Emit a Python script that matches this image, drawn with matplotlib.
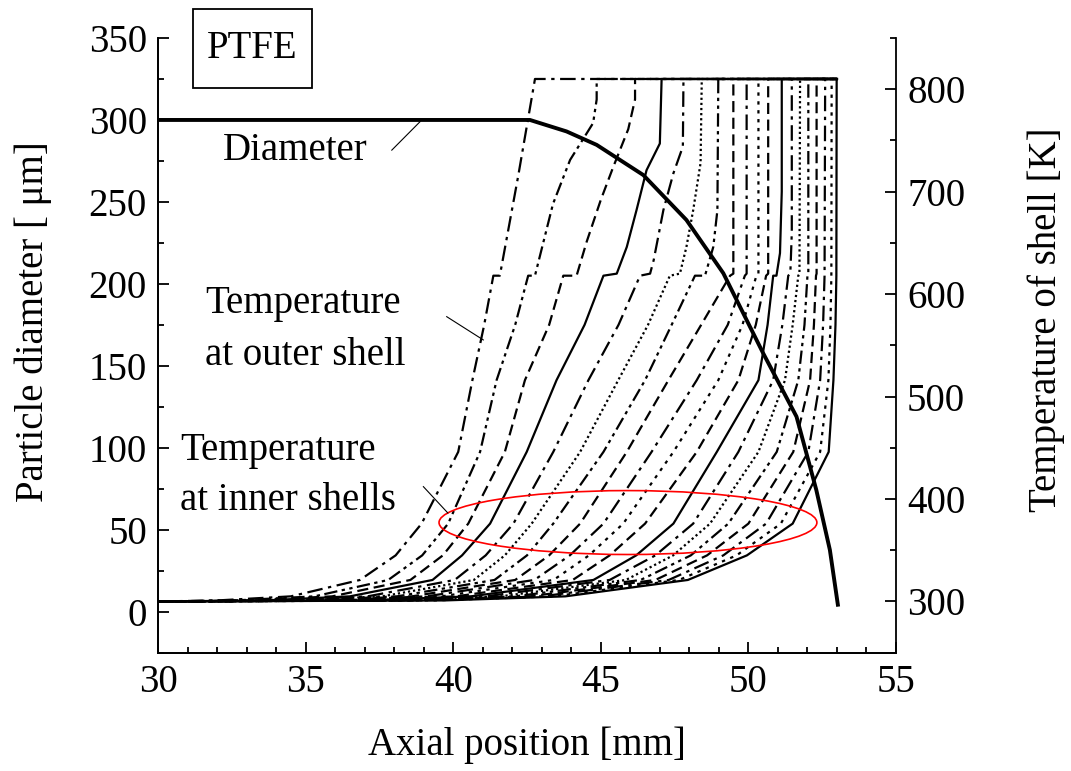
import matplotlib
matplotlib.use("Agg")
from matplotlib import pyplot as plt
from matplotlib.patches import Ellipse, Rectangle
from matplotlib.ticker import MultipleLocator

plt.rcParams['font.family'] = ['Liberation Serif', 'DejaVu Serif']

# diameter of the particle [um] vs axial position [mm]
diam_x = [30.0, 42.6, 43.84, 44.86, 46.44, 47.9, 49.15, 50.5, 51.63, 52.3, 52.76, 53.04]
diam_d = [300, 300, 293, 284.8, 266.4, 239, 206.5, 157.7, 119, 74.3, 37.7, 3.1]

# lower part of the shell temperature curves: x [mm] where each shell reaches these T [K]
t_low = [300, 301, 305, 321, 345, 376, 446, 516]
x_t300 = [30.0] * 19
x_t301 = [32.0, 32.6, 33.1, 33.6, 34.1, 34.5, 34.9, 35.3, 35.7, 36.1, 36.5, 36.9, 37.3, 37.7, 38.1, 38.5, 38.9, 39.3, 39.7]
x_t305 = [34.5, 35.3, 35.9, 36.5, 37.1, 37.6, 38.1, 38.6, 39.1, 39.6, 40.1, 40.6, 41.1, 41.6, 42.1, 42.6, 43.0, 43.4, 43.8]
x_t321 = [36.84, 37.8, 38.55, 39.3, 40.05, 40.7, 41.4, 42.1, 42.75, 43.4, 44.05, 44.75, 45.3, 45.85, 46.35, 46.85, 47.3, 47.65, 47.95]
x_t345 = [38.05, 38.95, 39.65, 40.3, 41.1, 41.75, 42.5, 43.25, 43.95, 44.6, 45.3, 46.2, 46.85, 47.45, 48.05, 48.6, 49.15, 49.6, 49.95]
x_t376 = [38.93, 39.83, 40.51, 41.25, 42.04, 42.66, 43.39, 44.3, 45.09, 45.76, 46.5, 47.46, 48.13, 48.7, 49.32, 50.0, 50.6, 51.1, 51.5]
x_t446 = [40.17, 40.91, 41.75, 42.49, 43.39, 44.3, 45.09, 45.88, 46.72, 47.46, 48.25, 48.93, 49.66, 50.34, 50.96, 51.52, 52.03, 52.43, 52.72]
x_t516 = [40.65, 41.47, 42.43, 43.5, 44.58, 45.59, 46.5, 47.29, 48.25, 48.98, 49.66, 50.34, 50.84, 51.24, 51.69, 52.09, 52.43, 52.71, 52.88]

# upper part (melting step and rise to 810 K), one list per shell
up_x = [
    [41.05, 41.36, 41.58, 42.2, 42.77],
    [42.1, 42.54, 42.77, 43.38, 43.96, 44.35, 44.74, 44.86, 44.86],
    [43.25, 43.73, 44.18, 44.52, 45.0, 45.42, 45.93, 46.16, 46.16],
    [44.45, 45.09, 45.54, 45.88, 46.21, 46.55, 47.0, 47.06],
    [45.6, 46.33, 46.67, 46.79, 47.12, 47.46, 47.78, 47.8],
    [46.6, 47.34, 47.68, 47.9, 48.13, 48.38, 48.42],
    [47.4, 48.19, 48.53, 48.81, 48.95, 48.98],
    [48.4, 49.38, 49.49, 49.49],
    [49.3, 49.88, 49.94, 49.94],
    [49.8, 50.27, 50.34, 50.34],
    [50.25, 50.6, 50.67, 50.67],
    [50.65, 50.84, 50.95, 51.07, 51.13, 51.13],
    [51.15, 51.35, 51.42, 51.47, 51.47],
    [51.5, 51.69, 51.73, 51.75],
    [51.9, 52.0, 52.03, 52.03],
    [52.22, 52.29, 52.31, 52.31],
    [52.53, 52.58, 52.6],
    [52.78, 52.81, 52.82],
    [52.95, 52.98, 52.99],
]
up_t = [
    [570, 618, 618, 715, 810],
    [570, 618, 618, 688, 731, 749, 767, 790, 810],
    [570, 618, 618, 651, 692, 724, 761, 790, 810],
    [570, 618, 620, 646, 682, 721, 747, 810],
    [570, 618, 620, 633, 682, 718, 744, 810],
    [570, 618, 620, 646, 682, 728, 810],
    [570, 618, 618, 646, 682, 810],
    [570, 618, 620, 810],
    [570, 618, 620, 810],
    [570, 618, 620, 810],
    [570, 618, 620, 810],
    [570, 618, 618, 640, 700, 810],
    [570, 618, 620, 660, 810],
    [570, 618, 620, 810],
    [570, 618, 620, 810],
    [570, 618, 620, 810],
    [570, 618, 810],
    [570, 618, 810],
    [570, 618, 810],
]
x_end = 53.0
t_end = 810

dashdot = (0, (7, 2.5, 1.5, 2.5))
dashdotdot = (0, (6, 2, 1.5, 2, 1.5, 2))
dashed = (0, (5, 2.5))
dotted = (0, (1, 1.3))
shortdot = (0, (1.5, 2.5))
styles = [dashdot, dashdotdot, dashed, '-', dashdot, dotted, dashdotdot, dashed,
          dashdot, shortdot, dashed, '-', dashdot, dotted, dashdotdot, dashed,
          dashdot, shortdot, '-']

FS = 28

fig = plt.figure(figsize=(10.71, 7.71), dpi=100)
ax1 = fig.add_axes([158 / 1071, 1 - 652.7 / 771, 738 / 1071, 614.7 / 771])
ax2 = ax1.twinx()

lows = [x_t300, x_t301, x_t305, x_t321, x_t345, x_t376, x_t446, x_t516]
for i in range(19):
    xs = [lv[i] for lv in lows] + up_x[i] + [x_end]
    ts = list(t_low) + up_t[i] + [t_end]
    ax2.plot(xs, ts, color='black', lw=1.6, ls=styles[i])

ax1.set_zorder(ax2.get_zorder() + 1)
ax1.patch.set_visible(False)
ax1.plot(diam_x, diam_d, color='black', lw=2.8, solid_capstyle='butt')

ell = Ellipse((45.92, 54.4), 12.8, 39, fill=False, edgecolor='red', lw=1.2)
ax1.add_patch(ell)

ax1.set_xlim(30, 55)
ax1.set_ylim(-25, 350)
ax2.set_ylim(250, 850)

ax1.xaxis.set_major_locator(MultipleLocator(5))
ax1.xaxis.set_minor_locator(MultipleLocator(1))
ax1.yaxis.set_major_locator(MultipleLocator(50))
ax1.yaxis.set_minor_locator(MultipleLocator(25))
ax2.yaxis.set_major_locator(MultipleLocator(100))
ax2.yaxis.set_minor_locator(MultipleLocator(50))
ax2.set_yticks([300, 400, 500, 600, 700, 800])

for ax in (ax1, ax2):
    ax.spines['top'].set_visible(False)
    for s in ax.spines.values():
        s.set_linewidth(1.3)
ax1.spines['right'].set_visible(False)

ax1.tick_params(which='both', direction='in', labelsize=FS, width=1.3, top=False, right=False)
ax1.tick_params(which='major', length=8, pad=8)
ax1.tick_params(which='minor', length=4)
ax2.tick_params(which='both', direction='in', labelsize=FS, width=1.3)
ax2.tick_params(which='major', length=8, pad=8)
ax2.tick_params(which='minor', length=4)

fig.text(33 / 1071, 1 - 322 / 771, 'Particle diameter [ μm]', rotation=90,
         ha='center', va='center', fontsize=FS)
fig.text(1046 / 1071, 1 - 320 / 771, 'Temperature of shell [K]', rotation=90,
         ha='center', va='center', fontsize=FS)
fig.text(527 / 1071, 1 - 745 / 771, 'Axial position [mm]',
         ha='center', va='center', fontsize=FS)

fig.patches.append(Rectangle((193 / 1071, 1 - 88 / 771), 119 / 1071, 79 / 771,
                             transform=fig.transFigure, fill=False, lw=1.3,
                             edgecolor='black'))
fig.text(252 / 1071, 1 - 49 / 771, 'PTFE', ha='center', va='center', fontsize=FS)

ax1.text(34.64, 281.6, 'Diameter', ha='center', va='center', fontsize=FS)
ax1.plot([37.92, 38.88], [281.6, 299.0], color='black', lw=0.8)
ax1.text(31.59, 182.4, 'Temperature', ha='left', va='baseline', fontsize=FS)
ax1.text(31.59, 150.5, 'at outer shell', ha='left', va='baseline', fontsize=FS)
ax1.plot([39.78, 41.02], [180.0, 165.8], color='black', lw=0.8)
ax1.text(30.75, 92.6, 'Temperature', ha='left', va='baseline', fontsize=FS)
ax1.text(30.75, 62.1, 'at inner shells', ha='left', va='baseline', fontsize=FS)
ax1.plot([38.99, 39.82], [76.3, 60.2], color='black', lw=0.8)

fig.savefig('out.png', dpi=100)
